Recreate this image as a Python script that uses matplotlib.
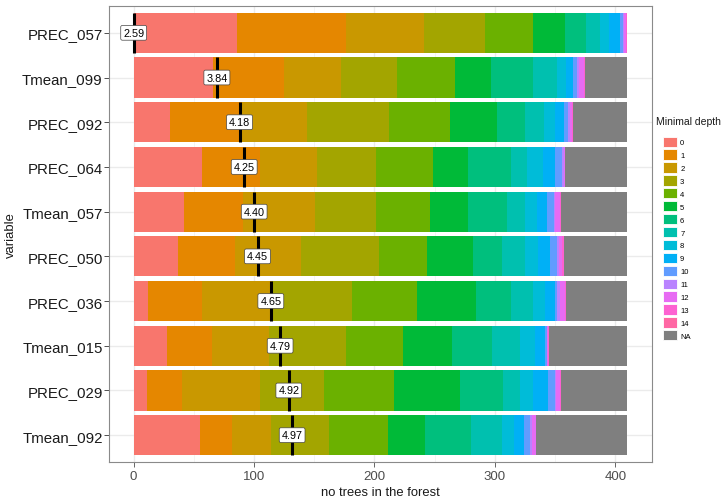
import matplotlib
matplotlib.use("Agg")
import matplotlib.pyplot as plt
from matplotlib.patches import Patch
import numpy as np

plt.rcParams['font.family'] = ['Liberation Sans', 'DejaVu Sans']

# ---- data ----
variables = ["PREC_057", "Tmean_099", "PREC_092", "PREC_064", "Tmean_057",
             "PREC_050", "PREC_036", "Tmean_015", "PREC_029", "Tmean_092"]
mean_min_depth = [2.59, 3.84, 4.18, 4.25, 4.40, 4.45, 4.65, 4.79, 4.92, 4.97]
depth_levels = [str(i) for i in range(15)] + ["NA"]

# counts of trees per minimal depth 0..14, then NA
PREC_057 = [86, 90, 65, 51, 40, 26, 18, 11, 8, 9, 2, 1, 2, 1, 0, 0]
Tmean_099 = [66, 59, 47, 47, 48, 30, 35, 20, 7, 6, 3, 2, 4, 1, 0, 35]
PREC_092 = [30, 60, 54, 68, 51, 39, 23, 16, 9, 7, 4, 1, 2, 1, 0, 45]
PREC_064 = [57, 48, 47, 49, 48, 29, 35, 14, 13, 10, 6, 1, 1, 0, 0, 52]
Tmean_057 = [42, 49, 60, 50, 45, 32, 32, 15, 10, 8, 6, 1, 4, 1, 0, 55]
PREC_050 = [37, 47, 55, 65, 40, 38, 24, 19, 11, 10, 6, 1, 3, 1, 0, 53]
PREC_036 = [12, 45, 58, 66, 54, 49, 29, 19, 10, 8, 2, 2, 4, 1, 0, 51]
Tmean_015 = [28, 37, 47, 64, 48, 40, 34, 23, 12, 9, 1, 0, 1, 1, 0, 65]
PREC_029 = [11, 29, 65, 53, 58, 55, 36, 14, 11, 12, 6, 1, 3, 1, 0, 55]
Tmean_092 = [55, 27, 32, 48, 49, 31, 38, 26, 10, 8, 5, 2, 3, 0, 0, 76]

# scale used to place the mean-depth marker on the count axis
max_count_scale = 131.6

counts = np.array([PREC_057, Tmean_099, PREC_092, PREC_064, Tmean_057,
                   PREC_050, PREC_036, Tmean_015, PREC_029, Tmean_092])

colors = ["#F8766D", "#E58700", "#C99800", "#A3A500", "#6BB100", "#00BA38",
          "#00BF7D", "#00C0AF", "#00BCD8", "#00B0F6", "#619CFF", "#B983FF",
          "#E76BF3", "#FD61D1", "#FF67A4", "#7F7F7F"]

# ---- figure ----
fig = plt.figure(figsize=(7.28, 5.02), dpi=100)
ax = fig.add_axes([109/728, 1-463/502, (652-109)/728, (463-7)/502])

ypos = np.arange(len(variables))
left = np.zeros(len(variables))
for j, lev in enumerate(depth_levels):
    ax.barh(ypos, counts[:, j], left=left, height=0.9, color=colors[j],
            linewidth=0, zorder=2)
    left += counts[:, j]

m = np.array(mean_min_depth)
mpos = (m - m.min()) / (m.max() - m.min()) * max_count_scale
ax.vlines(mpos, ypos - 0.45, ypos + 0.45, color='black', linewidth=2.2, zorder=3)
for y, x, v in zip(ypos, mpos, mean_min_depth):
    ax.text(x, y, f"{v:.2f}", ha='center', va='center', fontsize=7.8,
            color='black', zorder=4,
            bbox=dict(boxstyle='round,pad=0.22,rounding_size=0.15',
                      fc='white', ec='#444444', lw=0.5))

total = counts.sum(axis=1).max()
ax.set_xlim(-0.05 * total, total * 1.05)
ax.set_ylim(len(variables) - 0.4, -0.6)
ax.set_yticks(ypos)
ax.set_yticklabels(variables, fontsize=10.8, color='#1a1a1a')
ax.set_xticks([0, 100, 200, 300, 400])
ax.set_xticks([50, 150, 250, 350], minor=True)
ax.tick_params(axis='x', labelsize=9.5, colors='#4D4D4D', length=3.5, width=0.6, pad=2)
ax.tick_params(axis='y', length=3.5, width=0.6, colors='#333333', pad=1)
ax.tick_params(axis='y', labelcolor='#1a1a1a')
ax.tick_params(axis='x', which='minor', length=0)
ax.grid(True, which='major', color='#EBEBEB', linewidth=1.0, zorder=0)
ax.grid(True, which='minor', axis='x', color='#F2F2F2', linewidth=0.6, zorder=0)
ax.set_axisbelow(True)
for s in ax.spines.values():
    s.set_color('#8a8a8a')
    s.set_linewidth(0.8)

ax.set_xlabel("no trees in the forest", fontsize=9.4, color='#1a1a1a', labelpad=3)
ax.set_ylabel("variable", fontsize=9.4, color='#1a1a1a', labelpad=4)

# legend: title as separate text, keys indented below
fig.text(656/728, 1 - 122/502, "Minimal depth", fontsize=7.5, color='#1a1a1a',
         ha='left', va='center')
handles = [Patch(facecolor=c, edgecolor='white', linewidth=0.6, label=l)
           for c, l in zip(colors, depth_levels)]
leg = fig.legend(handles=handles, loc='upper left',
                 bbox_to_anchor=(661/728, 1 - 136/502), frameon=False,
                 fontsize=5.5, handlelength=1.95,
                 handleheight=1.7, labelspacing=0.34, handletextpad=0.35,
                 borderpad=0.2, borderaxespad=0)

fig.savefig("out.png", dpi=100)
